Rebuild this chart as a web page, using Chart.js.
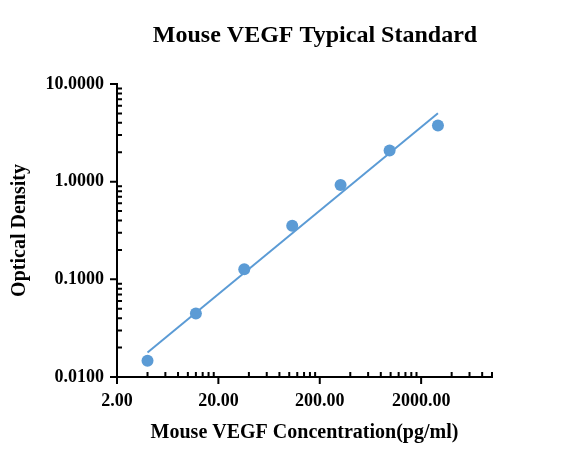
<!DOCTYPE html>
<html>
<head>
<meta charset="utf-8">
<script src="https://cdn.jsdelivr.net/npm/chart.js@4.4.1/dist/chart.umd.min.js"></script>
<style>
  html, body { margin: 0; padding: 0; background: #fff; }
  #wrap { width: 578px; height: 472px; }
</style>
</head>
<body>
<div id="wrap"><canvas id="c"></canvas></div>
<script>
// standard curve readings (pg/ml vs OD)
const concentrations = [4.0, 12.0, 36.0, 107, 321, 977, 2930];
const odValues = [0.0147, 0.0447, 0.1265, 0.354, 0.925, 2.08, 3.75];
// fitted line end points
const fitX = [4.0, 2930];
const fitY = [0.0178, 5.03];
// labelled ticks
const xTickValues = [2, 20, 200, 2000];
const yTickValues = [0.01, 0.1, 1, 10];

const BLUE = '#5B9BD5';
const SERIF = '"Liberation Serif", "Times New Roman", serif';

// axis lines + ticks: majors point out, minors point in
const axisPlugin = {
  id: 'axisTicks',
  afterDatasetsDraw(chart){
    const {ctx, chartArea: a, scales: {x, y}} = chart;
    ctx.save();
    ctx.strokeStyle = '#000';
    ctx.lineWidth = 2;
    ctx.beginPath();
    ctx.moveTo(a.left, a.top - 1); ctx.lineTo(a.left, a.bottom + 1);
    ctx.moveTo(a.left - 1, a.bottom); ctx.lineTo(a.right + 1, a.bottom);
    ctx.stroke();

    ctx.beginPath();
    for (let n = 0; n < 4; n++) {
      for (let k = 1; k <= 9; k++) {
        const v = 2 * k * Math.pow(10, n);
        if (v > x.max) continue;
        const px = x.getPixelForValue(v);
        if (k === 1) { ctx.moveTo(px, a.bottom - 1); ctx.lineTo(px, a.bottom + 7); }
        else { ctx.moveTo(px, a.bottom); ctx.lineTo(px, a.bottom - 5); }
      }
    }
    const v10 = x.getPixelForValue(x.max);
    ctx.moveTo(v10, a.bottom); ctx.lineTo(v10, a.bottom - 5);

    for (let n = -2; n <= 1; n++) {
      for (let k = 1; k <= 9; k++) {
        const v = k * Math.pow(10, n);
        if (v > y.max * 1.0001) continue;
        const py = y.getPixelForValue(v);
        if (k === 1) { ctx.moveTo(a.left + 1, py); ctx.lineTo(a.left - 7, py); }
        else { ctx.moveTo(a.left, py); ctx.lineTo(a.left + 5, py); }
      }
    }
    ctx.stroke();
    ctx.restore();
  }
};

// nudge the title box so the heading sits where it does in the original
const titleShift = {
  id: 'titleShift',
  afterLayout(chart){
    if (chart.titleBlock) chart.titleBlock.left += 138;
  }
};

new Chart(document.getElementById('c'), {
  type: 'scatter',
  data: {
    datasets: [
      {
        label: 'Fit',
        data: fitX.map((v, i) => ({x: v, y: fitY[i]})),
        showLine: true,
        borderColor: BLUE,
        borderWidth: 2,
        pointRadius: 0,
        order: 2
      },
      {
        label: 'Standard',
        data: concentrations.map((v, i) => ({x: v, y: odValues[i]})),
        backgroundColor: BLUE,
        borderColor: BLUE,
        pointRadius: 6,
        pointBorderWidth: 0,
        order: 1
      }
    ]
  },
  options: {
    responsive: true,
    maintainAspectRatio: false,
    animation: false,
    layout: { padding: { top: 0, right: 86, bottom: 0, left: 0 } },
    plugins: {
      legend: { display: false },
      tooltip: { enabled: false },
      title: {
        display: true,
        text: 'Mouse VEGF Typical Standard',
        color: '#000',
        font: { family: SERIF, size: 24, weight: 'bold' },
        padding: { top: 21, bottom: 34.2 }
      }
    },
    scales: {
      x: {
        type: 'logarithmic',
        min: 2, max: 10000,
        grid: { display: false, drawTicks: false },
        border: { display: false },
        afterBuildTicks(s){ s.ticks = xTickValues.map(v => ({value: v})); },
        afterFit(s){ s.height = 95; },
        ticks: {
          color: '#000',
          font: { family: SERIF, size: 18, weight: 'bold' },
          padding: 14,
          maxRotation: 0,
          callback: v => Number(v).toFixed(2)
        },
        title: {
          display: true,
          text: 'Mouse VEGF Concentration(pg/ml)',
          color: '#000',
          font: { family: SERIF, size: 20, weight: 'bold' },
          padding: { bottom: 27 }
        }
      },
      y: {
        type: 'logarithmic',
        min: 0.01, max: 10,
        grid: { display: false, drawTicks: false },
        border: { display: false },
        afterBuildTicks(s){ s.ticks = yTickValues.map(v => ({value: v})); },
        afterFit(s){ s.width = 117; },
        ticks: {
          color: '#000',
          font: { family: SERIF, size: 18, weight: 'bold' },
          padding: 13,
          callback: v => Number(v).toFixed(4)
        },
        title: {
          display: true,
          text: 'Optical Density',
          color: '#000',
          font: { family: SERIF, size: 20, weight: 'bold' },
          padding: { top: 8 }
        }
      }
    }
  },
  plugins: [axisPlugin, titleShift]
});
</script>
</body>
</html>
